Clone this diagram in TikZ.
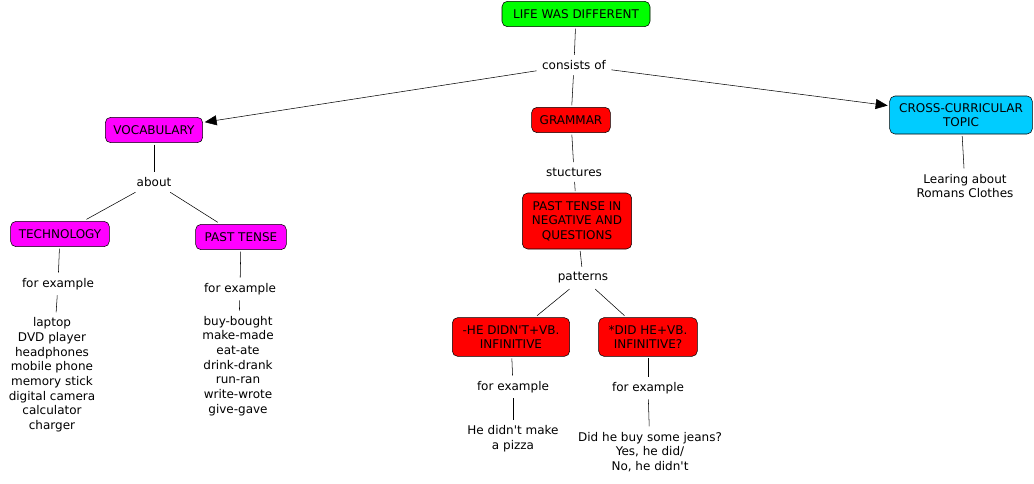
\documentclass[tikz,border=0pt]{standalone}
\usepackage{fontspec}
\setmainfont{DejaVu Sans}
\usepackage{tikz}
\usepackage{xcolor}
\usetikzlibrary{arrows.meta}
\definecolor{life-green}{HTML}{00FF00}
\definecolor{vocab-pink}{HTML}{FF00FF}
\definecolor{grammar-red}{HTML}{FF0000}
\definecolor{topic-blue}{HTML}{00CCFF}
\newcommand{\mapfont}{\fontsize{9pt}{11pt}\selectfont}
\tikzset{
    concept-box/.style = {draw=black, thin, rectangle, rounded corners=4pt, align=center, font=\mapfont, inner sep=2pt, outer sep=1.5pt, minimum height=19pt},
    link-label/.style = {align=center, font=\mapfont, inner sep=4pt},
    link-line/.style = {draw=black, thin},
    link-arrow/.style = {link-line, -{Triangle[length=9pt,width=7.5pt]}},
}

\begin{document}
\begin{tikzpicture}[x=0.75pt, y=-0.75pt]
\useasboundingbox (0,0) rectangle (1034,483);

% concepts
\node[concept-box, fill=life-green, minimum width=111pt] (life) at (576,14) {LIFE WAS DIFFERENT};
\node[concept-box, fill=vocab-pink, minimum width=73pt] (vocab) at (154,130) {VOCABULARY};
\node[concept-box, fill=grammar-red, minimum width=59pt] (grammar) at (571,120) {GRAMMAR};
\node[concept-box, fill=topic-blue, minimum width=107pt, minimum height=28.5pt] (topic) at (961,115) {CROSS-CURRICULAR\\TOPIC};
\node[concept-box, fill=vocab-pink, minimum width=74pt] (tech) at (60,234) {TECHNOLOGY};
\node[concept-box, fill=vocab-pink, minimum width=68pt] (past) at (241,237) {PAST TENSE};
\node[concept-box, fill=grammar-red, minimum width=82pt, minimum height=42pt] (pastneg) at (577,221) {PAST TENSE IN\\NEGATIVE AND\\QUESTIONS};
\node[concept-box, fill=grammar-red, minimum width=88pt, minimum height=29pt] (didnt) at (511,337) {-HE DIDN\textquotesingle T+VB.\\INFINITIVE};
\node[concept-box, fill=grammar-red, minimum width=74pt, minimum height=29pt] (didhe) at (648,337) {*DID HE+VB.\\INFINITIVE?};

% linking phrases
\node[link-label] (consists) at (574,65) {consists of};
\node[link-label] (about) at (154,182) {about};
\node[link-label] (techfor) at (58,284) {for example};
\node[link-label] (pastfor) at (240,289) {for example};
\node[link-label] (stuctures) at (574,172) {stuctures};
\node[link-label] (patterns) at (583,278) {patterns};
\node[link-label] (didntfor) at (513,387) {for example};
\node[link-label] (didhefor) at (648,388) {for example};

% examples
\node[link-label] (techlist) at (52,375) {laptop\\DVD player\\headphones\\mobile phone\\memory stick\\digital camera\\calculator\\charger};
\node[link-label] (pastlist) at (238,366) {buy-bought\\make-made\\eat-ate\\drink-drank\\run-ran\\write-wrote\\give-gave};
\node[link-label] (didntex) at (513,439) {He didn\textquotesingle t make\\a pizza};
\node[link-label] (didheex) at (650,452) {Did he buy some jeans?\\Yes, he did/\\No, he didn\textquotesingle t};
\node[link-label] (topicex) at (965,186) {Learing about\\Romans Clothes};

% connectors
\draw[link-line] (life) -- (consists);
\draw[link-arrow] (consists) -- (vocab);
\draw[link-line] (consists) -- (grammar);
\draw[link-arrow] (consists) -- (topic);
\draw[link-line] (vocab) -- (about);
\draw[link-line] (about) -- (tech);
\draw[link-line] (about) -- (past);
\draw[link-line] (tech) -- (techfor);
\draw[link-line] (techfor) -- (techlist);
\draw[link-line] (past) -- (pastfor);
\draw[link-line] (pastfor) -- (pastlist);
\draw[link-line] (grammar) -- (stuctures);
\draw[link-line] (stuctures) -- (pastneg);
\draw[link-line] (pastneg) -- (patterns);
\draw[link-line] (patterns) -- (didnt);
\draw[link-line] (patterns) -- (didhe);
\draw[link-line] (didnt) -- (didntfor);
\draw[link-line] (didntfor) -- (didntex);
\draw[link-line] (didhe) -- (didhefor);
\draw[link-line] (didhefor) -- (didheex);
\draw[link-line] (topic) -- (topicex);
\end{tikzpicture}
\end{document}
